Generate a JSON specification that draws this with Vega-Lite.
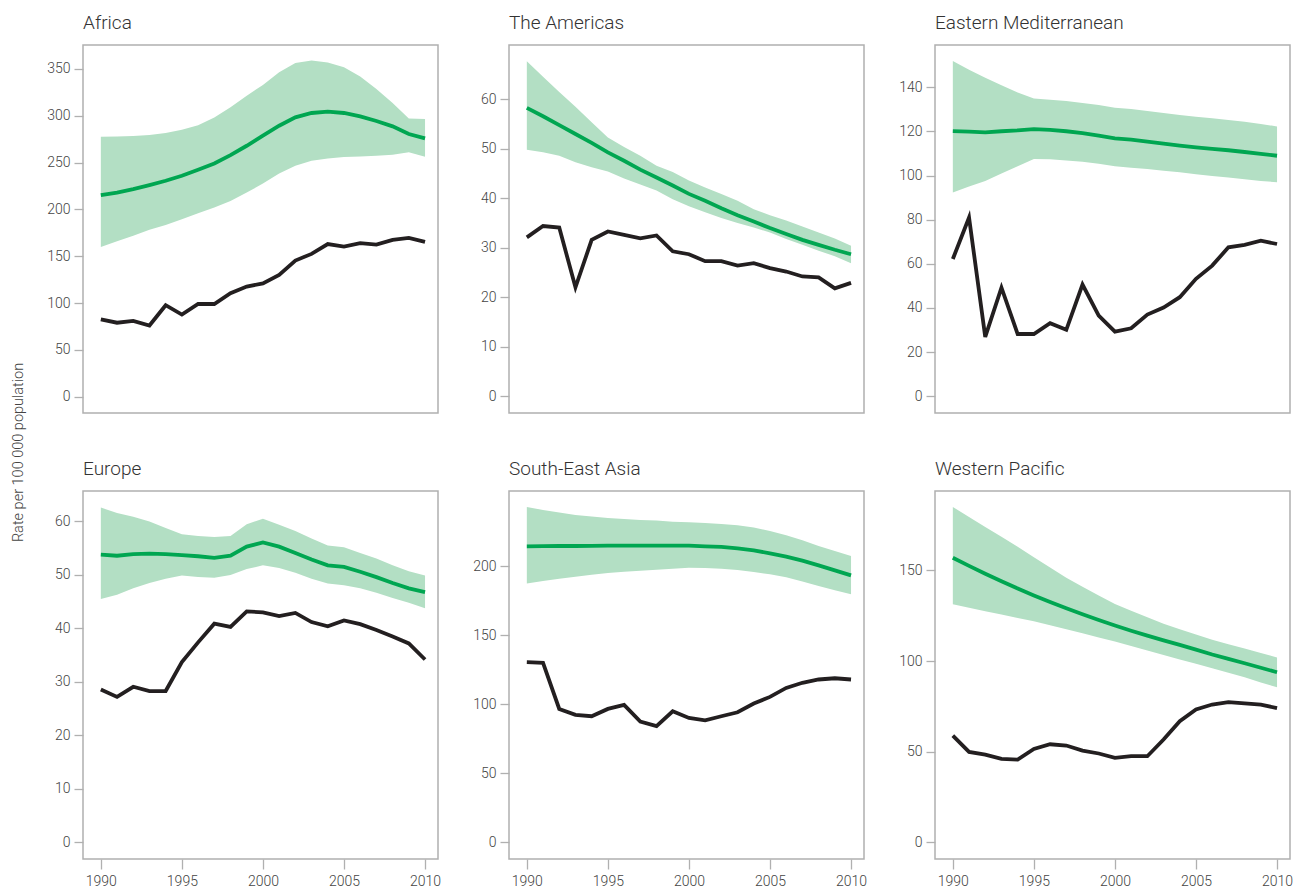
{
  "$schema": "https://vega.github.io/schema/vega-lite/v6.json",
  "padding": {"left": 9, "top": 13, "right": 2, "bottom": 5},
  "background": "white",
  "config": {
    "view": {"stroke": "#b0b0b0", "strokeWidth": 1.5},
    "axis": {"domain": false, "grid": false, "tickColor": "#b0b0b0", "tickSize": 9, "tickWidth": 1.3, "labelFont": "Roboto", "labelFontSize": 14, "labelFontWeight": 300, "labelColor": "#444444", "labelPadding": 4},
    "title": {"font": "Roboto", "fontSize": 19, "fontWeight": 300, "color": "#333333", "anchor": "start", "frame": "group", "offset": 12},
    "area": {"color": "#b3dfc4"},
    "line": {"strokeWidth": 3.8}
  },
  "datasets": {
    "d": [
      {"r":"Africa","y":1990,"obs":82.7,"est":215.3,"lo":160,"hi":277.6},
      {"r":"Africa","y":1991,"obs":79,"est":218,"lo":166,"hi":278},
      {"r":"Africa","y":1992,"obs":81,"est":221.7,"lo":171.8,"hi":278.3},
      {"r":"Africa","y":1993,"obs":76,"est":226,"lo":178.2,"hi":279.4},
      {"r":"Africa","y":1994,"obs":97.7,"est":230.6,"lo":183.5,"hi":281.6},
      {"r":"Africa","y":1995,"obs":87.7,"est":236,"lo":189.6,"hi":285},
      {"r":"Africa","y":1996,"obs":99,"est":242.4,"lo":196,"hi":290},
      {"r":"Africa","y":1997,"obs":99,"est":249,"lo":202,"hi":298.3},
      {"r":"Africa","y":1998,"obs":110.5,"est":258,"lo":209,"hi":309},
      {"r":"Africa","y":1999,"obs":117.6,"est":268,"lo":218,"hi":321.5},
      {"r":"Africa","y":2000,"obs":121,"est":278.7,"lo":227.7,"hi":333},
      {"r":"Africa","y":2001,"obs":130,"est":289.4,"lo":238.4,"hi":346.4},
      {"r":"Africa","y":2002,"obs":145.4,"est":298.3,"lo":246.6,"hi":356.4},
      {"r":"Africa","y":2003,"obs":152.5,"est":303,"lo":252,"hi":359},
      {"r":"Africa","y":2004,"obs":163,"est":304.4,"lo":254.5,"hi":357},
      {"r":"Africa","y":2005,"obs":160.4,"est":303,"lo":256,"hi":351.8},
      {"r":"Africa","y":2006,"obs":164,"est":299.4,"lo":256.6,"hi":342},
      {"r":"Africa","y":2007,"obs":162.5,"est":294.4,"lo":257.4,"hi":328.6},
      {"r":"Africa","y":2008,"obs":167.5,"est":288.7,"lo":258.4,"hi":313.6},
      {"r":"Africa","y":2009,"obs":169.6,"est":280.5,"lo":261,"hi":297},
      {"r":"Africa","y":2010,"obs":165.4,"est":275.8,"lo":256.2,"hi":296.5},

      {"r":"Americas","y":1990,"obs":32.1,"est":58.3,"lo":49.8,"hi":67.7},
      {"r":"Americas","y":1991,"obs":34.4,"est":56.6,"lo":49.3,"hi":64.6},
      {"r":"Americas","y":1992,"obs":34.1,"est":54.8,"lo":48.6,"hi":61.5},
      {"r":"Americas","y":1993,"obs":22,"est":53,"lo":47.3,"hi":58.5},
      {"r":"Americas","y":1994,"obs":31.6,"est":51.2,"lo":46.3,"hi":55.4},
      {"r":"Americas","y":1995,"obs":33.3,"est":49.3,"lo":45.4,"hi":52.3},
      {"r":"Americas","y":1996,"obs":32.6,"est":47.6,"lo":44,"hi":50.4},
      {"r":"Americas","y":1997,"obs":31.9,"est":45.8,"lo":42.8,"hi":48.6},
      {"r":"Americas","y":1998,"obs":32.5,"est":44.2,"lo":41.6,"hi":46.6},
      {"r":"Americas","y":1999,"obs":29.3,"est":42.6,"lo":39.8,"hi":45.3},
      {"r":"Americas","y":2000,"obs":28.7,"est":40.9,"lo":38.4,"hi":43.6},
      {"r":"Americas","y":2001,"obs":27.3,"est":39.5,"lo":37.2,"hi":42.2},
      {"r":"Americas","y":2002,"obs":27.3,"est":38,"lo":36,"hi":40.9},
      {"r":"Americas","y":2003,"obs":26.4,"est":36.6,"lo":35,"hi":39.5},
      {"r":"Americas","y":2004,"obs":26.9,"est":35.3,"lo":34.1,"hi":37.8},
      {"r":"Americas","y":2005,"obs":25.9,"est":34,"lo":33.1,"hi":36.6},
      {"r":"Americas","y":2006,"obs":25.2,"est":32.8,"lo":31.8,"hi":35.5},
      {"r":"Americas","y":2007,"obs":24.2,"est":31.6,"lo":30.6,"hi":34.3},
      {"r":"Americas","y":2008,"obs":24,"est":30.6,"lo":29.4,"hi":33.1},
      {"r":"Americas","y":2009,"obs":21.8,"est":29.6,"lo":28.3,"hi":31.9},
      {"r":"Americas","y":2010,"obs":22.9,"est":28.7,"lo":26.9,"hi":30.4},

      {"r":"EMed","y":1990,"obs":62.2,"est":120.2,"lo":92.4,"hi":151.9},
      {"r":"EMed","y":1991,"obs":81,"est":119.9,"lo":95.1,"hi":148},
      {"r":"EMed","y":1992,"obs":26.9,"est":119.6,"lo":97.6,"hi":144.4},
      {"r":"EMed","y":1993,"obs":49.2,"est":120.1,"lo":100.9,"hi":141},
      {"r":"EMed","y":1994,"obs":28.2,"est":120.5,"lo":104.2,"hi":137.7},
      {"r":"EMed","y":1995,"obs":28.2,"est":121.1,"lo":107.5,"hi":135},
      {"r":"EMed","y":1996,"obs":33.1,"est":120.7,"lo":107.4,"hi":134.4},
      {"r":"EMed","y":1997,"obs":30.1,"est":120.1,"lo":106.9,"hi":133.8},
      {"r":"EMed","y":1998,"obs":50.6,"est":119.3,"lo":106.3,"hi":132.9},
      {"r":"EMed","y":1999,"obs":36.5,"est":118.1,"lo":105.4,"hi":132},
      {"r":"EMed","y":2000,"obs":29.3,"est":116.9,"lo":104.2,"hi":130.8},
      {"r":"EMed","y":2001,"obs":30.8,"est":116.3,"lo":103.6,"hi":130.2},
      {"r":"EMed","y":2002,"obs":37,"est":115.4,"lo":103,"hi":129.3},
      {"r":"EMed","y":2003,"obs":40.2,"est":114.5,"lo":102.2,"hi":128.4},
      {"r":"EMed","y":2004,"obs":44.9,"est":113.6,"lo":101.5,"hi":127.5},
      {"r":"EMed","y":2005,"obs":53.2,"est":112.8,"lo":100.6,"hi":126.7},
      {"r":"EMed","y":2006,"obs":59.2,"est":112.1,"lo":99.8,"hi":126},
      {"r":"EMed","y":2007,"obs":67.5,"est":111.5,"lo":99.1,"hi":125.2},
      {"r":"EMed","y":2008,"obs":68.6,"est":110.7,"lo":98.3,"hi":124.4},
      {"r":"EMed","y":2009,"obs":70.5,"est":109.9,"lo":97.6,"hi":123.4},
      {"r":"EMed","y":2010,"obs":69,"est":109,"lo":97,"hi":122.3},

      {"r":"Europe","y":1990,"obs":28.6,"est":53.8,"lo":45.5,"hi":62.6},
      {"r":"Europe","y":1991,"obs":27.2,"est":53.6,"lo":46.3,"hi":61.6},
      {"r":"Europe","y":1992,"obs":29.1,"est":53.9,"lo":47.5,"hi":60.9},
      {"r":"Europe","y":1993,"obs":28.3,"est":54,"lo":48.5,"hi":60},
      {"r":"Europe","y":1994,"obs":28.3,"est":53.9,"lo":49.3,"hi":58.8},
      {"r":"Europe","y":1995,"obs":33.7,"est":53.7,"lo":49.9,"hi":57.6},
      {"r":"Europe","y":1996,"obs":37.4,"est":53.5,"lo":49.6,"hi":57.3},
      {"r":"Europe","y":1997,"obs":40.9,"est":53.2,"lo":49.5,"hi":57.1},
      {"r":"Europe","y":1998,"obs":40.3,"est":53.6,"lo":50,"hi":57.3},
      {"r":"Europe","y":1999,"obs":43.2,"est":55.3,"lo":51.1,"hi":59.5},
      {"r":"Europe","y":2000,"obs":43,"est":56.1,"lo":51.8,"hi":60.5},
      {"r":"Europe","y":2001,"obs":42.3,"est":55.3,"lo":51.3,"hi":59.4},
      {"r":"Europe","y":2002,"obs":42.9,"est":54.1,"lo":50.4,"hi":58.2},
      {"r":"Europe","y":2003,"obs":41.2,"est":52.9,"lo":49.3,"hi":56.8},
      {"r":"Europe","y":2004,"obs":40.4,"est":51.8,"lo":48.4,"hi":55.5},
      {"r":"Europe","y":2005,"obs":41.5,"est":51.5,"lo":48.1,"hi":55.2},
      {"r":"Europe","y":2006,"obs":40.8,"est":50.6,"lo":47.5,"hi":54.1},
      {"r":"Europe","y":2007,"obs":39.7,"est":49.6,"lo":46.7,"hi":53.1},
      {"r":"Europe","y":2008,"obs":38.5,"est":48.5,"lo":45.7,"hi":51.8},
      {"r":"Europe","y":2009,"obs":37.2,"est":47.5,"lo":44.8,"hi":50.7},
      {"r":"Europe","y":2010,"obs":34.2,"est":46.8,"lo":43.8,"hi":49.9},

      {"r":"SEAsia","y":1990,"obs":130.4,"est":214.3,"lo":187.4,"hi":242.8},
      {"r":"SEAsia","y":1991,"obs":130,"est":214.4,"lo":189.1,"hi":240.6},
      {"r":"SEAsia","y":1992,"obs":96.6,"est":214.5,"lo":190.8,"hi":238.7},
      {"r":"SEAsia","y":1993,"obs":92.3,"est":214.5,"lo":192.3,"hi":237},
      {"r":"SEAsia","y":1994,"obs":91.3,"est":214.6,"lo":193.7,"hi":235.8},
      {"r":"SEAsia","y":1995,"obs":96.6,"est":214.7,"lo":194.9,"hi":234.8},
      {"r":"SEAsia","y":1996,"obs":99.5,"est":214.7,"lo":195.9,"hi":234.1},
      {"r":"SEAsia","y":1997,"obs":87.4,"est":214.8,"lo":196.6,"hi":233.3},
      {"r":"SEAsia","y":1998,"obs":84.1,"est":214.8,"lo":197.3,"hi":232.9},
      {"r":"SEAsia","y":1999,"obs":94.9,"est":214.8,"lo":198.1,"hi":232.1},
      {"r":"SEAsia","y":2000,"obs":90.1,"est":214.7,"lo":198.8,"hi":231.6},
      {"r":"SEAsia","y":2001,"obs":88.4,"est":214.3,"lo":198.6,"hi":231.2},
      {"r":"SEAsia","y":2002,"obs":91.3,"est":213.8,"lo":198.1,"hi":230.4},
      {"r":"SEAsia","y":2003,"obs":94.2,"est":212.8,"lo":197.1,"hi":229.5},
      {"r":"SEAsia","y":2004,"obs":100.5,"est":211.4,"lo":195.7,"hi":227.8},
      {"r":"SEAsia","y":2005,"obs":105.3,"est":209.2,"lo":194,"hi":225.4},
      {"r":"SEAsia","y":2006,"obs":111.8,"est":206.8,"lo":191.8,"hi":222.2},
      {"r":"SEAsia","y":2007,"obs":115.5,"est":203.9,"lo":188.9,"hi":218.6},
      {"r":"SEAsia","y":2008,"obs":117.9,"est":200.5,"lo":185.5,"hi":214.5},
      {"r":"SEAsia","y":2009,"obs":118.8,"est":196.9,"lo":182.4,"hi":210.9},
      {"r":"SEAsia","y":2010,"obs":117.9,"est":193.2,"lo":179.5,"hi":207.2},

      {"r":"WPac","y":1990,"obs":58.9,"est":157,"lo":131.3,"hi":185},
      {"r":"WPac","y":1991,"obs":49.9,"est":152.5,"lo":129.4,"hi":179.5},
      {"r":"WPac","y":1992,"obs":48.4,"est":148.2,"lo":127.5,"hi":174},
      {"r":"WPac","y":1993,"obs":46,"est":144,"lo":125.7,"hi":168.5},
      {"r":"WPac","y":1994,"obs":45.6,"est":140,"lo":123.8,"hi":163},
      {"r":"WPac","y":1995,"obs":51.5,"est":136.2,"lo":122,"hi":157.3},
      {"r":"WPac","y":1996,"obs":54.1,"est":132.6,"lo":119.8,"hi":151.6},
      {"r":"WPac","y":1997,"obs":53.4,"est":129.1,"lo":117.5,"hi":146},
      {"r":"WPac","y":1998,"obs":50.6,"est":125.8,"lo":115.3,"hi":141},
      {"r":"WPac","y":1999,"obs":49,"est":122.6,"lo":113,"hi":136.1},
      {"r":"WPac","y":2000,"obs":46.6,"est":119.6,"lo":110.8,"hi":131.5},
      {"r":"WPac","y":2001,"obs":47.5,"est":116.7,"lo":108.3,"hi":127.8},
      {"r":"WPac","y":2002,"obs":47.5,"est":114,"lo":105.8,"hi":124.2},
      {"r":"WPac","y":2003,"obs":56.7,"est":111.4,"lo":103.3,"hi":120.6},
      {"r":"WPac","y":2004,"obs":66.8,"est":108.9,"lo":100.9,"hi":117.6},
      {"r":"WPac","y":2005,"obs":73.3,"est":106.3,"lo":98.5,"hi":114.7},
      {"r":"WPac","y":2006,"obs":76,"est":103.6,"lo":96,"hi":111.8},
      {"r":"WPac","y":2007,"obs":77.3,"est":101.2,"lo":93.5,"hi":109.3},
      {"r":"WPac","y":2008,"obs":76.6,"est":98.8,"lo":91,"hi":106.9},
      {"r":"WPac","y":2009,"obs":76,"est":96.3,"lo":88.2,"hi":104.4},
      {"r":"WPac","y":2010,"obs":74,"est":93.8,"lo":85.5,"hi":102}
    ]
  },
  "data": {"name": "d"},
  "bounds": "flush",
  "columns": 3,
  "spacing": {"row": 78, "column": 71},
  "concat": [
    {
      "width": 355, "height": 368,
      "title": "Africa",
      "transform": [{"filter": "datum.r === 'Africa'"}],
      "encoding": {"x": {"field": "y", "type": "quantitative", "scale": {"domain": [1988.9, 2010.8], "nice": false, "zero": false}, "axis": null}},
      "layer": [
        {"mark": "area", "encoding": {"y": {"field": "lo", "type": "quantitative", "scale": {"domain": [-17.4, 375.6], "nice": false, "zero": false}, "axis": {"values": [0, 50, 100, 150, 200, 250, 300, 350], "title": "Rate per 100 000 population", "titleX": -61, "titleY": 407, "titleAngle": -90, "titleAlign": "center", "titleBaseline": "alphabetic", "titleFont": "Roboto", "titleFontSize": 14.5, "titleFontWeight": 300, "titleColor": "#444444", "labelFontSize": 14, "labelFont": "Roboto", "tickSize": 9}}, "y2": {"field": "hi"}}},
        {"mark": {"type": "line", "color": "#00a651"}, "encoding": {"y": {"field": "est", "type": "quantitative", "axis": {"values": [0, 50, 100, 150, 200, 250, 300, 350], "title": "Rate per 100 000 population", "titleX": -61, "titleY": 407, "titleAngle": -90, "titleAlign": "center", "titleBaseline": "alphabetic", "titleFont": "Roboto", "titleFontSize": 14.5, "titleFontWeight": 300, "titleColor": "#444444", "labelFontSize": 14, "labelFont": "Roboto", "tickSize": 9}}}},
        {"mark": {"type": "line", "color": "#231f20"}, "encoding": {"y": {"field": "obs", "type": "quantitative", "axis": {"values": [0, 50, 100, 150, 200, 250, 300, 350], "title": "Rate per 100 000 population", "titleX": -61, "titleY": 407, "titleAngle": -90, "titleAlign": "center", "titleBaseline": "alphabetic", "titleFont": "Roboto", "titleFontSize": 14.5, "titleFontWeight": 300, "titleColor": "#444444", "labelFontSize": 14, "labelFont": "Roboto", "tickSize": 9}}}}
      ]
    },
    {
      "width": 355, "height": 368,
      "title": "The Americas",
      "transform": [{"filter": "datum.r === 'Americas'"}],
      "encoding": {"x": {"field": "y", "type": "quantitative", "scale": {"domain": [1988.9, 2010.8], "nice": false, "zero": false}, "axis": null}},
      "layer": [
        {"mark": "area", "encoding": {"y": {"field": "lo", "type": "quantitative", "scale": {"domain": [-3.4, 71], "nice": false, "zero": false}, "axis": {"values": [0, 10, 20, 30, 40, 50, 60], "title": null, "labelFontSize": 14, "labelFont": "Roboto", "tickSize": 9}}, "y2": {"field": "hi"}}},
        {"mark": {"type": "line", "color": "#00a651"}, "encoding": {"y": {"field": "est", "type": "quantitative", "axis": {"values": [0, 10, 20, 30, 40, 50, 60], "title": null, "labelFontSize": 14, "labelFont": "Roboto", "tickSize": 9}}}},
        {"mark": {"type": "line", "color": "#231f20"}, "encoding": {"y": {"field": "obs", "type": "quantitative", "axis": {"values": [0, 10, 20, 30, 40, 50, 60], "title": null, "labelFontSize": 14, "labelFont": "Roboto", "tickSize": 9}}}}
      ]
    },
    {
      "width": 355, "height": 368,
      "title": "Eastern Mediterranean",
      "transform": [{"filter": "datum.r === 'EMed'"}],
      "encoding": {"x": {"field": "y", "type": "quantitative", "scale": {"domain": [1988.9, 2010.8], "nice": false, "zero": false}, "axis": null}},
      "layer": [
        {"mark": "area", "encoding": {"y": {"field": "lo", "type": "quantitative", "scale": {"domain": [-7.6, 159.2], "nice": false, "zero": false}, "axis": {"values": [0, 20, 40, 60, 80, 100, 120, 140], "title": null, "labelFontSize": 14, "labelFont": "Roboto", "tickSize": 9}}, "y2": {"field": "hi"}}},
        {"mark": {"type": "line", "color": "#00a651"}, "encoding": {"y": {"field": "est", "type": "quantitative", "axis": {"values": [0, 20, 40, 60, 80, 100, 120, 140], "title": null, "labelFontSize": 14, "labelFont": "Roboto", "tickSize": 9}}}},
        {"mark": {"type": "line", "color": "#231f20"}, "encoding": {"y": {"field": "obs", "type": "quantitative", "axis": {"values": [0, 20, 40, 60, 80, 100, 120, 140], "title": null, "labelFontSize": 14, "labelFont": "Roboto", "tickSize": 9}}}}
      ]
    },
    {
      "width": 355, "height": 368,
      "title": "Europe",
      "transform": [{"filter": "datum.r === 'Europe'"}],
      "encoding": {"x": {"field": "y", "type": "quantitative", "scale": {"domain": [1988.9, 2010.8], "nice": false, "zero": false}, "axis": {"values": [1990, 1995, 2000, 2005, 2010], "format": "d", "title": null, "tickSize": 10, "labelPadding": 5, "labelFontSize": 14, "labelFont": "Roboto"}}},
      "layer": [
        {"mark": "area", "encoding": {"y": {"field": "lo", "type": "quantitative", "scale": {"domain": [-3.1, 65.7], "nice": false, "zero": false}, "axis": {"values": [0, 10, 20, 30, 40, 50, 60], "title": null, "labelFontSize": 14, "labelFont": "Roboto", "tickSize": 9}}, "y2": {"field": "hi"}}},
        {"mark": {"type": "line", "color": "#00a651"}, "encoding": {"y": {"field": "est", "type": "quantitative", "axis": {"values": [0, 10, 20, 30, 40, 50, 60], "title": null, "labelFontSize": 14, "labelFont": "Roboto", "tickSize": 9}}}},
        {"mark": {"type": "line", "color": "#231f20"}, "encoding": {"y": {"field": "obs", "type": "quantitative", "axis": {"values": [0, 10, 20, 30, 40, 50, 60], "title": null, "labelFontSize": 14, "labelFont": "Roboto", "tickSize": 9}}}}
      ]
    },
    {
      "width": 355, "height": 368,
      "title": "South-East Asia",
      "transform": [{"filter": "datum.r === 'SEAsia'"}],
      "encoding": {"x": {"field": "y", "type": "quantitative", "scale": {"domain": [1988.9, 2010.8], "nice": false, "zero": false}, "axis": {"values": [1990, 1995, 2000, 2005, 2010], "format": "d", "title": null, "tickSize": 10, "labelPadding": 5, "labelFontSize": 14, "labelFont": "Roboto"}}},
      "layer": [
        {"mark": "area", "encoding": {"y": {"field": "lo", "type": "quantitative", "scale": {"domain": [-12, 254.3], "nice": false, "zero": false}, "axis": {"values": [0, 50, 100, 150, 200], "title": null, "labelFontSize": 14, "labelFont": "Roboto", "tickSize": 9}}, "y2": {"field": "hi"}}},
        {"mark": {"type": "line", "color": "#00a651"}, "encoding": {"y": {"field": "est", "type": "quantitative", "axis": {"values": [0, 50, 100, 150, 200], "title": null, "labelFontSize": 14, "labelFont": "Roboto", "tickSize": 9}}}},
        {"mark": {"type": "line", "color": "#231f20"}, "encoding": {"y": {"field": "obs", "type": "quantitative", "axis": {"values": [0, 50, 100, 150, 200], "title": null, "labelFontSize": 14, "labelFont": "Roboto", "tickSize": 9}}}}
      ]
    },
    {
      "width": 355, "height": 368,
      "title": "Western Pacific",
      "transform": [{"filter": "datum.r === 'WPac'"}],
      "encoding": {"x": {"field": "y", "type": "quantitative", "scale": {"domain": [1988.9, 2010.8], "nice": false, "zero": false}, "axis": {"values": [1990, 1995, 2000, 2005, 2010], "format": "d", "title": null, "tickSize": 10, "labelPadding": 5, "labelFontSize": 14, "labelFont": "Roboto"}}},
      "layer": [
        {"mark": "area", "encoding": {"y": {"field": "lo", "type": "quantitative", "scale": {"domain": [-9.2, 193.8], "nice": false, "zero": false}, "axis": {"values": [0, 50, 100, 150], "title": null, "labelFontSize": 14, "labelFont": "Roboto", "tickSize": 9}}, "y2": {"field": "hi"}}},
        {"mark": {"type": "line", "color": "#00a651"}, "encoding": {"y": {"field": "est", "type": "quantitative", "axis": {"values": [0, 50, 100, 150], "title": null, "labelFontSize": 14, "labelFont": "Roboto", "tickSize": 9}}}},
        {"mark": {"type": "line", "color": "#231f20"}, "encoding": {"y": {"field": "obs", "type": "quantitative", "axis": {"values": [0, 50, 100, 150], "title": null, "labelFontSize": 14, "labelFont": "Roboto", "tickSize": 9}}}}
      ]
    }
  ]
}
